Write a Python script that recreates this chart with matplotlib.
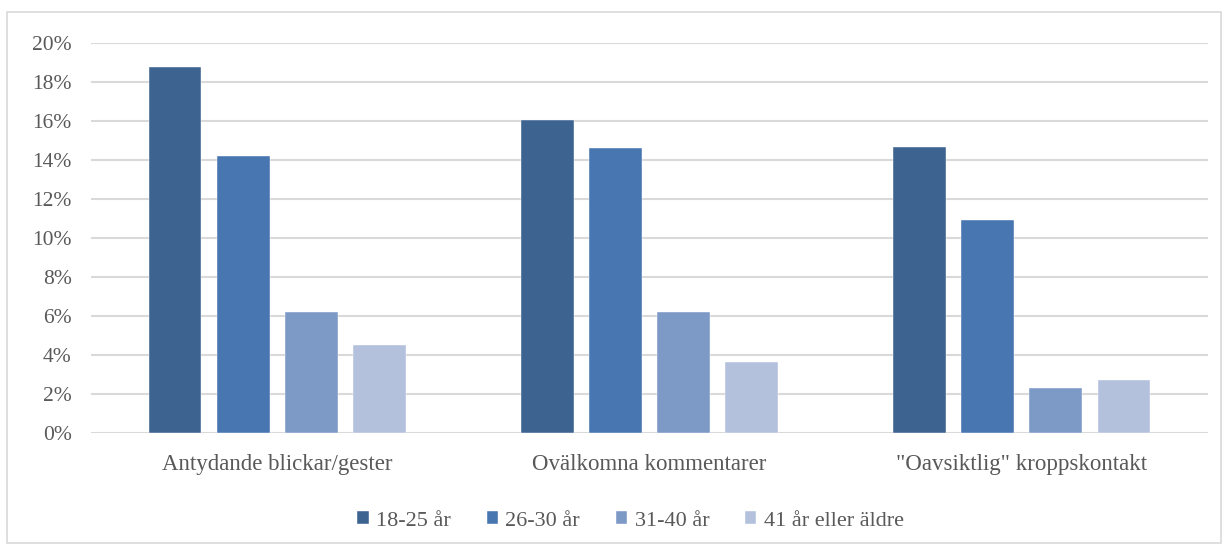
import matplotlib.pyplot as plt
import numpy as np
from matplotlib.patches import Rectangle

plt.rcParams['font.family'] = ['Liberation Serif', 'DejaVu Serif']

categories = ['Antydande blickar/gester', 'Ovälkomna kommentarer', '"Oavsiktlig" kroppskontakt']
series = ['18-25 år', '26-30 år', '31-40 år', '41 år eller äldre']
values = [
    [18.75, 16.05, 14.65],
    [14.2, 14.6, 10.9],
    [6.2, 6.2, 2.3],
    [4.5, 3.65, 2.7],
]
colors = ['#3D6391', '#4876B0', '#7D9AC7', '#B3C1DC']

fig = plt.figure(figsize=(12.28, 5.45), dpi=100)
ax = fig.add_axes([0.0741, 0.2055, 0.9096, 0.7155])

x = np.arange(len(categories))
width = 0.142
step = 0.183
for i, (name, vals) in enumerate(zip(series, values)):
    offs = (i - 1.5) * step
    ax.bar(x + offs, vals, width, color=colors[i], label=name, zorder=3,
           edgecolor='white', linewidth=0.3)

ax.set_xlim(-0.5, 2.5)
ax.set_ylim(0, 20)
ax.set_yticks(range(0, 21, 2))
ax.set_yticklabels([f'{t}%' for t in range(0, 21, 2)])
ax.set_xticks(x)
ax.set_xticklabels(categories)
ax.grid(axis='y', color='#D9D9D9', linewidth=1.5, zorder=0)
for s in ['top', 'right', 'left', 'bottom']:
    ax.spines[s].set_visible(False)
ax.tick_params(axis='y', length=0, pad=14, labelsize=15.5, labelcolor='#595959')
ax.tick_params(axis='x', length=0, pad=15, labelsize=16.5, labelcolor='#595959')

ax.legend(loc='upper center', bbox_to_anchor=(0.483, -0.15), ncol=4, frameon=False,
          fontsize=16, labelcolor='#595959', handlelength=0.5, handleheight=0.5,
          handletextpad=0.35, columnspacing=1.6)

fig.patches.append(Rectangle((7 / 1228, 0.004), 1214 / 1228, 1 - 12 / 545 - 0.004,
                             transform=fig.transFigure, fill=False,
                             edgecolor='#D9D9D9', linewidth=1.2))

fig.savefig('out.png', dpi=100)
